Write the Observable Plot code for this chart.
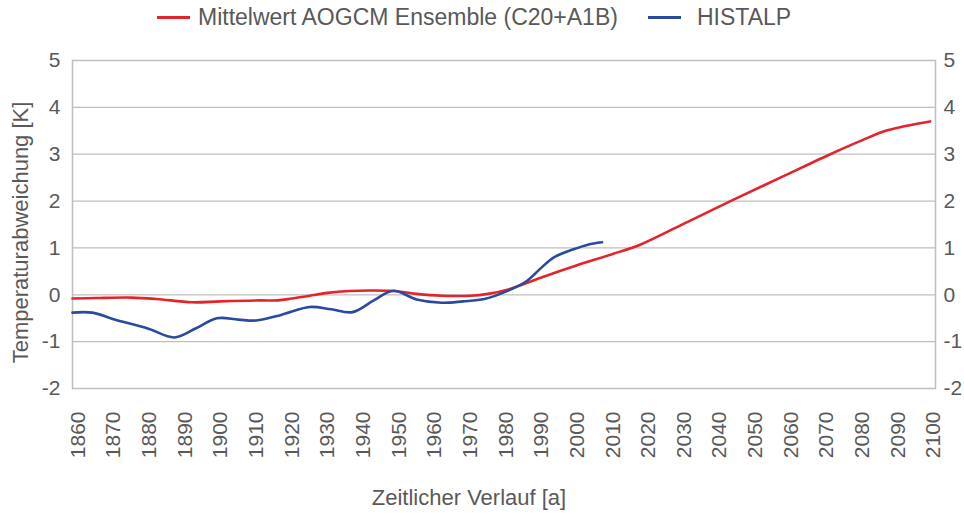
<!DOCTYPE html>
<html>
<head>
<meta charset="utf-8">
<script src="https://cdn.jsdelivr.net/npm/d3@7"></script>
<script src="https://cdn.jsdelivr.net/npm/@observablehq/plot@0.6"></script>
<style>
  html, body { margin: 0; padding: 0; background: #fff; }
  body { width: 964px; height: 513px; overflow: hidden; font-family: "Liberation Sans", Arial, sans-serif; color: #595959; }
  #legend { position: relative; height: 40px; font-size: 23px; }
  .item { position: absolute; top: 4px; display: flex; align-items: center; white-space: pre; }
  .swatch { display: inline-block; width: 33px; height: 3px; margin-right: 8px; }
</style>
</head>
<body>
<div id="legend"></div>
<div id="chart"></div>
<script>
// Series names
const seriesNames = ["Mittelwert AOGCM Ensemble (C20+A1B)", "HISTALP"];
const seriesColors = ["#e3242b", "#2a4a9f"];

// Red: Mittelwert AOGCM Ensemble (C20+A1B)
const redYears  = [1858.5, 1865, 1875, 1882, 1892, 1900, 1911, 1916, 1920, 1925, 1930, 1936, 1943, 1950, 1955, 1962, 1970, 1975, 1981, 1990, 2000, 2010, 2018, 2030, 2043, 2057, 2071, 2080, 2087, 2099];
const redValues = [-0.08, -0.07, -0.06, -0.09, -0.16, -0.14, -0.12, -0.12, -0.08, -0.02, 0.04, 0.08, 0.09, 0.07, 0.02, -0.02, -0.02, 0.02, 0.12, 0.37, 0.63, 0.87, 1.08, 1.52, 2.0, 2.5, 3.0, 3.3, 3.51, 3.7];

// Blue: HISTALP
const blueYears  = [1858.5, 1864, 1870, 1880, 1887, 1893, 1899, 1905, 1910, 1917, 1925, 1931, 1937, 1943, 1948.5, 1955, 1962, 1968, 1974, 1981, 1986, 1990, 1993.5, 1999, 2003, 2007];
const blueValues = [-0.38, -0.38, -0.52, -0.73, -0.91, -0.72, -0.5, -0.53, -0.55, -0.43, -0.26, -0.31, -0.37, -0.12, 0.085, -0.1, -0.17, -0.14, -0.09, 0.1, 0.3, 0.58, 0.8, 0.97, 1.07, 1.12];

// Axis ticks and titles
const xTicks = d3.range(1860, 2101, 10);
const yTicks = d3.range(-2, 6, 1);
const xTitle = "Zeitlicher Verlauf [a]";
const yTitle = "Temperaturabweichung [K]";

const red = redYears.map((year, i) => ({year, value: redValues[i]}));
const blue = blueYears.map((year, i) => ({year, value: blueValues[i]}));

// Legend
const legend = document.getElementById("legend");
const lefts = [157, 648];
const gaps = [8, 16];
seriesNames.forEach((name, i) => {
  const item = document.createElement("div");
  item.className = "item";
  item.style.left = lefts[i] + "px";
  const sw = document.createElement("span");
  sw.className = "swatch";
  sw.style.background = seriesColors[i];
  sw.style.marginRight = gaps[i] + "px";
  const tx = document.createElement("span");
  tx.textContent = name;
  item.appendChild(sw);
  item.appendChild(tx);
  legend.appendChild(item);
});

const fmt = d => String(d);

const chart = Plot.plot({
  width: 964,
  height: 473,
  marginTop: 20,
  marginBottom: 125,
  marginLeft: 72,
  marginRight: 29,
  style: {fontFamily: "'Liberation Sans', Arial, sans-serif", fontSize: "21px", color: "#595959", background: "#fff", overflow: "visible"},
  x: {domain: [1858.5, 2100.5]},
  y: {domain: [-2, 5]},
  marks: [
    Plot.gridY(yTicks, {stroke: "#bfbfbf", strokeOpacity: 1, strokeWidth: 1.3}),
    Plot.frame({anchor: "left", stroke: "#bfbfbf", strokeWidth: 1.5}),
    Plot.frame({anchor: "right", stroke: "#bfbfbf", strokeWidth: 1.5}),
    Plot.axisY(yTicks, {anchor: "left", tickSize: 0, tickPadding: 12, tickFormat: fmt, label: null, fontSize: 21}),
    Plot.axisY(yTicks, {anchor: "right", tickSize: 0, tickPadding: 8, tickFormat: fmt, label: null, fontSize: 21}),
    Plot.axisX(xTicks, {anchor: "bottom", tickSize: 0, tickPadding: 23, tickRotate: -90, tickFormat: fmt, label: null, fontSize: 21}),
    Plot.line(red, {x: "year", y: "value", stroke: seriesColors[0], strokeWidth: 2.6, curve: "catmull-rom"}),
    Plot.line(blue, {x: "year", y: "value", stroke: seriesColors[1], strokeWidth: 2.6, curve: "catmull-rom"}),
    Plot.text([xTitle], {frameAnchor: "bottom", textAnchor: "middle", dx: -35, dy: 109, lineAnchor: "middle", fontSize: 22, fill: "#595959"}),
    Plot.text([yTitle], {frameAnchor: "left", textAnchor: "middle", rotate: -90, dx: -52, dy: 8, lineAnchor: "middle", fontSize: 22, fill: "#595959"})
  ]
});
document.getElementById("chart").appendChild(chart);
</script>
</body>
</html>
